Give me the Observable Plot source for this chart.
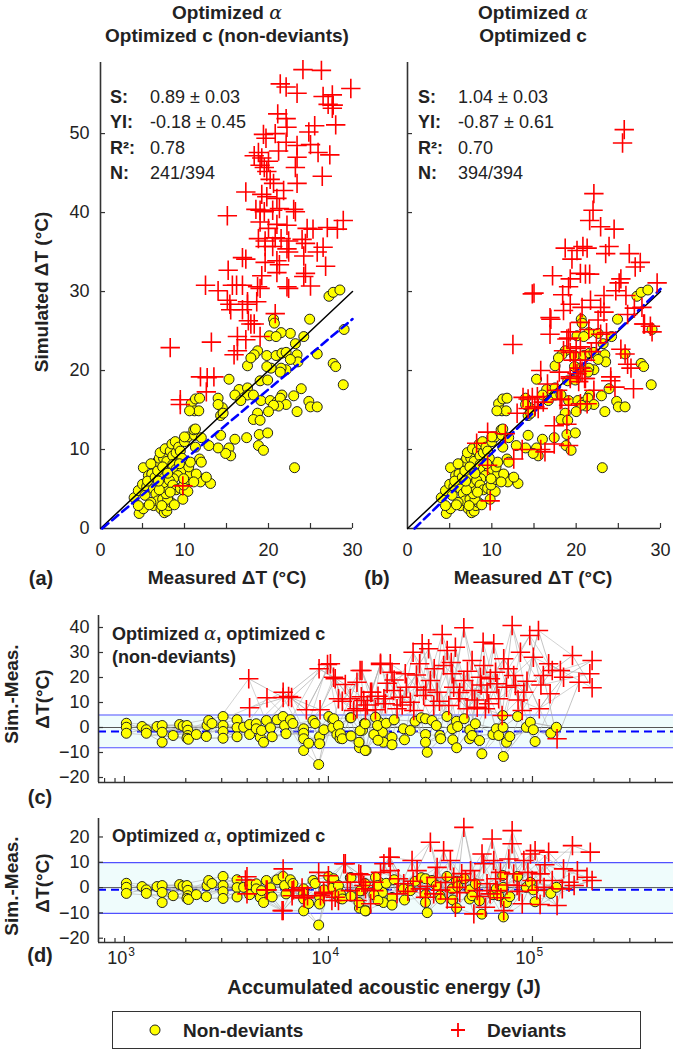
<!DOCTYPE html>
<html><head><meta charset="utf-8">
<script src="https://cdn.jsdelivr.net/npm/d3@7"></script>
<script src="https://cdn.jsdelivr.net/npm/@observablehq/plot@0.6"></script>
<style>
body{margin:0;background:#fff;}
#wrap{position:relative;width:675px;height:1050px;overflow:hidden;font-family:"Liberation Sans",Arial,sans-serif;color:#222;}
.t{position:absolute;white-space:nowrap;line-height:1;}
.al{font-family:"DejaVu Serif",serif;font-style:italic;font-weight:normal;}
</style></head><body><div id="wrap"></div>
<script>
// ---------------- DATA ----------------
// Non-deviant samples: [measured ΔT, simulated ΔT] (same in panels a and b)
const ndPairs = [
[27.2,29.4],[27.7,29.9],[28.5,30.2],[20.6,26.5],[20.7,26.0],[24.9,26.5],[22.6,24.7],[21.5,24.8],[20.1,24.4],[20.9,24.3],[24.2,24.3],[23.2,23.4],[18.7,22.5],[18.3,22.0],[19.8,21.9],[20.9,21.9],[21.6,22.2],[22.1,22.3],[23.4,22.0],[23.5,21.1],[22.6,21.4],[22.1,20.1],[21.5,20.3],[21.4,19.8],[20.3,20.3],[19.8,20.5],[17.5,20.6],[17.9,21.6],[25.8,22.1],[27.7,20.9],[28.0,20.5],[15.3,18.9],[19.0,18.7],[19.9,18.8],[16.5,17.6],[17.5,17.8],[17.5,16.9],[18.2,16.9],[21.6,16.9],[23.0,16.8],[23.9,17.7],[16.0,16.9],[16.7,16.2],[19.1,16.2],[20.2,16.2],[21.0,16.0],[21.4,16.5],[22.1,15.7],[21.2,15.5],[20.6,15.6],[24.8,16.1],[25.0,15.4],[25.8,15.4],[23.4,14.8],[20.0,14.8],[18.7,14.6],[18.2,13.8],[19.0,13.7],[14.5,15.3],[14.0,16.5],[14.0,15.7],[14.3,14.3],[14.6,14.6],[17.4,11.5],[16.0,11.3],[14.3,11.8],[15.3,10.2],[15.5,9.2],[14.9,9.5],[14.0,10.2],[12.9,10.5],[18.9,11.9],[19.9,12.1],[18.8,10.5],[19.4,9.9],[23.1,7.7],[10.8,15.8],[11.2,14.9],[11.7,14.9],[11.3,16.4],[11.8,16.5],[10.6,14.9],[29.0,25.2],[28.9,18.2],
[4.0,3.9],[4.5,4.8],[4.6,1.9],[5.1,2.5],[4.5,2.9],[5.0,5.6],[5.5,5.3],[5.1,7.7],[5.7,6.7],[6.1,6.9],[5.6,6.0],[6.5,6.5],[6.3,5.0],[6.6,4.4],[6.3,2.9],[7.2,2.5],[6.8,3.5],[7.4,3.7],[7.6,2.0],[7.9,2.2],[8.1,2.9],[8.4,3.3],[8.0,3.7],[7.8,4.4],[7.8,5.2],[7.5,5.8],[7.1,6.5],[6.8,7.3],[6.8,8.5],[7.0,8.9],[7.5,8.9],[7.9,8.5],[7.1,9.6],[7.7,10.1],[8.3,9.8],[8.5,10.7],[8.9,11.0],[8.6,9.2],[9.0,9.6],[9.3,10.3],[9.5,9.8],[8.6,8.1],[9.0,7.5],[9.7,7.3],[9.2,6.7],[8.7,6.3],[8.2,6.1],[8.6,5.5],[9.0,4.9],[9.5,5.1],[10.0,4.7],[10.4,4.7],[9.9,5.5],[10.5,6.2],[10.7,7.0],[10.5,7.8],[10.7,8.4],[9.9,6.3],[9.8,3.7],[10.0,11.0],[10.4,11.6],[11.2,11.8],[12.0,11.5],[11.3,10.3],[11.8,8.8],[12.0,8.4],[12.3,6.3],[11.9,5.9],[13.1,5.7],[12.6,6.5],[11.4,6.9],[11.1,5.9],[9.7,8.9],[11.1,12.5],[11.3,12.6],[10.0,11.6],
[5.3,4.2],[6.0,3.3],[7.0,4.9],[8.3,4.6],[6.9,6.0],[7.4,7.8],[8.0,7.0],[9.4,8.2],[6.0,8.2],[5.8,3.0],[7.3,2.9],[8.8,3.0]
];
// Deviants, panel a: [measured ΔT, simulated ΔT]
const devPairsA = [
[24.1,58.1],[26.3,58.0],[21.4,56.3],[22.1,55.9],[23.4,55.1],[26.5,54.7],[27.6,54.9],[29.8,55.7],[27.1,53.7],[27.7,53.6],[27.6,53.2],[21.1,52.5],[22.1,51.9],[22.2,50.8],[24.8,50.2],[25.5,51.0],[28.0,51.1],[19.4,49.9],[20.8,50.0],[19.7,49.4],[22.1,48.9],[23.4,48.5],[25.0,48.6],[25.9,47.6],[27.3,47.3],[18.8,47.6],[21.2,47.8],[18.3,47.2],[19.2,46.9],[20.0,46.5],[23.4,47.0],[19.0,46.0],[19.5,45.7],[19.8,45.2],[23.2,45.7],[26.4,44.6],[20.2,44.2],[20.6,43.7],[23.4,43.7],[17.3,42.6],[19.2,42.3],[19.8,42.0],[21.0,41.8],[21.8,42.8],[15.1,39.6],[18.5,40.4],[19.0,40.3],[19.5,40.1],[20.5,40.3],[21.3,40.5],[23.0,40.4],[23.2,40.1],[19.0,38.8],[20.0,38.0],[21.0,38.5],[22.2,38.4],[24.6,38.0],[25.3,37.9],[27.0,38.1],[28.2,37.9],[28.9,39.0],[18.8,36.7],[19.6,36.4],[20.8,36.8],[21.5,36.7],[22.4,36.4],[24.0,36.6],[24.4,36.1],[19.6,35.7],[20.5,35.7],[22.2,35.4],[22.4,35.0],[26.5,35.6],[25.8,35.0],[24.2,34.5],[16.9,34.3],[17.3,34.1],[19.6,33.7],[21.0,33.9],[21.3,33.4],[26.8,33.2],[15.2,32.7],[19.2,32.0],[21.0,32.4],[24.4,32.3],[24.2,31.9],[25.0,30.7],[12.5,30.8],[14.0,30.1],[15.7,30.8],[16.2,30.8],[16.9,30.8],[18.7,30.6],[19.0,30.4],[22.2,30.6],[22.4,30.4],[15.1,28.9],[17.5,28.7],[18.6,28.7],[15.4,28.4],[15.5,27.7],[16.9,27.7],[17.5,28.4],[17.6,26.3],[17.9,25.9],[18.3,25.9],[16.3,24.3],[17.3,23.9],[19.0,24.3],[15.9,22.0],[16.3,22.5],[8.3,22.9],[13.2,23.6],[11.9,19.2],[12.7,19.1],[13.5,19.2],[12.6,17.3],[9.5,16.3],[9.5,15.7],[20.8,27.2],[9.8,5.4]
];
// Deviants, panel b: [measured ΔT, simulated ΔT]
const devPairsB = [
[25.7,50.5],[25.5,48.8],[22.1,42.4],[22.0,40.3],[21.6,39.0],[22.9,38.2],[24.5,37.9],[18.7,35.5],[20.1,35.2],[20.8,35.7],[21.3,35.5],[23.5,34.8],[23.9,35.7],[26.3,34.8],[27.6,33.7],[27.0,33.1],[19.5,34.1],[17.2,32.0],[20.5,32.3],[21.1,32.2],[21.6,32.2],[19.3,31.6],[19.1,30.6],[15.0,29.8],[18.4,29.6],[21.7,28.9],[23.3,29.5],[25.1,31.1],[25.3,31.6],[25.9,29.5],[24.7,30.1],[29.6,31.1],[19.3,28.4],[20.7,28.0],[22.9,28.0],[23.3,27.4],[18.5,27.6],[17.0,26.5],[20.5,26.1],[26.1,27.1],[26.9,27.9],[28.1,25.9],[29.0,24.9],[21.5,25.2],[22.9,24.6],[23.6,24.8],[16.9,24.6],[19.3,24.9],[19.1,24.1],[18.5,22.5],[19.3,22.3],[20.5,23.0],[19.9,21.3],[21.1,21.3],[25.3,22.7],[26.1,20.8],[24.1,18.7],[24.6,17.9],[15.8,20.0],[26.8,17.7],[12.5,23.3],[20.1,19.6],[20.7,19.9],[19.3,19.0],[21.0,19.0],
[14.8,29.7],[16.9,26.7],[13.7,16.6],[14.3,16.4],[14.8,16.6],[15.4,16.7],[13.0,14.6],[14.3,15.2],[15.1,15.4],[15.5,15.2],[17.4,13.0],[18.3,16.4],[18.9,13.2],[19.1,15.6],[9.5,12.2],[11.6,12.0],[8.2,10.8],[13.6,10.0],[12.6,8.8],[15.8,10.0],[16.3,9.7],[17.4,10.7],[19.1,10.5],[9.5,8.0],[9.8,3.5],[24.1,19.2],[22.1,17.5],[20.5,15.8],[21.3,15.8],[27.8,28.0],[28.0,25.9],[28.8,25.6],[25.8,22.1],[26.5,20.3],[18.9,24.0],[19.7,21.3],[20.5,20.3],[19.3,19.2],[20.3,18.6],[21.1,19.0],[17.8,17.5],[18.1,16.3],[16.1,16.0],[22.4,23.5],[21.8,22.4],[20.0,22.8],[22.6,26.4],[18.0,19.8],[16.6,18.3]
];
// Fit statistics
const statLabels = ["S:", "YI:", "R²:", "N:"];
const statsA = ["0.89 ± 0.03", "-0.18 ± 0.45", "0.78", "241/394"];
const statsB = ["1.04 ± 0.03", "-0.87 ± 0.61", "0.70", "394/394"];
const fitA = {slope: 0.89, intercept: -0.18};
const fitB = {slope: 1.04, intercept: -0.87};

// Non-deviants: [accumulated acoustic energy (J), sim - meas ΔT] (panels c and d)
const ndResid = [
[1023,1.7],[1023,0.1],[1023,-2.3],[1221,0.4],[1282,-0.9],[1282,-2.3],[1446,0.4],[1532,0.8],[1532,-1.9],[1532,-5.9],[1734,-3.2],[1866,1.2],[1940,0.6],[2028,0.8],[2047,-1.1],[2047,-3.2],[2028,-4.3],[2060,-4.7],[2253,-2.8],[2523,-3.6],[2543,0.8],[2590,2.8],[2688,1.6],[3046,4.4],[3046,0.8],[3046,-1.6],[3046,-4.3],[3567,3.1],[3567,0],[3567,-3.7],[3842,0.1],[4110,1.2],[4110,-2.8],[4430,1.5],[4430,-0.5],[4635,-3.9],[4700,-1.2],[4809,-5.9],[4970,2.8],[5200,-0.1],[5300,-3.7],[5605,3.1],[5995,4.4],[6100,0.8],[6200,-2.5],[6510,3.1],[6700,1.6],[7560,-0.5],[7560,-2.3],[7560,-4.5],[7560,-9.2],[8000,-6.3],[8400,2.8],[8600,1.6],[8960,-14.8],[9050,-3.7],[9050,-6.5],[9500,-0.9],[10040,4.4],[10500,3.1],[10500,0],[11000,-2.8],[11400,-4.3],[12800,3.9],[14200,-8.1],[14700,-1.1],[15000,1.6],[15300,-9.2],[17300,-3.6],[17800,2.0],[18400,-1.9],[18600,-5.9],
[10610,3.5],[11200,0.8],[11450,-2.5],[11700,-4.5],[12900,3.9],[12900,-3.4],[14120,-5.9],[14300,-1.3],[15150,1.5],[15150,-9.2],[16700,-2.8],[17000,4.1],[17400,0.8],[17500,-5.1],[19200,1.7],[20500,-3.9],[20500,-6.9],[21000,3.1],[23300,-0.5],[23600,-4.9],[25200,-1.2],[26600,2.5],[28500,3.9],[29900,3.5],[29900,-2.8],[29900,-5.9],[30500,-9.9],[32200,2.8],[33800,0.8],[35200,-3.2],[35500,-4.5],[38100,4.4],[40400,-0.5],[40700,-4.9],[42400,2.5],[42500,-8.1],[43000,0.4],[46300,3.5],[49300,-0.9],[49200,-4.5],[50600,-3.2],[52500,1.5],[55000,-5.2],[56500,-10.5],[64000,-2.8],[66500,-0.5],[68300,-3.2],[71500,4.8],[71800,0.1],[72000,-11.6],[74600,-5.9],[77400,-3.6],[84500,4.4],[93300,0.1],[97600,2.1],[101000,-0.9],[103000,-5.6],[123000,-2.3],[131000,0.1]
];
// Deviants, panel c: [energy (J), sim - meas ΔT]
const devResidC = [
[10230,25.5],[10600,20.1],[11700,10.5],[12100,17.2],[12800,11.5],[13300,6.8],[13800,18.1],[14600,22.8],[14900,10.8],[15200,6.8],[16100,14.1],[17000,7.1],[18000,25.2],[18700,11.5],[19400,17.7],[20100,25.5],[20500,22.1],[20900,14.8],[21700,7.5],[22500,12.1],[23800,21.5],[24100,16.1],[25200,10.1],[26000,30.1],[26200,6.8],[27200,16.1],[28000,25.5],[28800,33.5],[29300,12.8],[31000,31.5],[31600,18.8],[32800,8.8],[34100,14.1],[36100,37.2],[36700,24.8],[38200,30.8],[38900,8.8],[40400,21.5],[41100,16.1],[41900,32.1],[43500,11.5],[46100,39.9],[46100,18.8],[47800,7.5],[50600,26.8],[50600,14.8],[53600,8.1],[55600,20.1],[57300,34.1],[57700,24.8],[58800,7.5],[59900,14.1],[62200,19.5],[64600,33.5],[65900,22.1],[68300,11.5],[72300,27.5],[74600,16.1],[79500,40.8],[80900,20.8],[82500,16.8],[87300,30.1],[89100,6.8],[90700,14.1],[97000,36.8],[101000,28.1],[107000,38.8],[108000,7.5],[113000,20.8],[120000,25.5],[125000,22.8],[137000,22.8],[142000,20.1],[157000,28.8],[169000,18.1],[191000,21.5],[196000,26.8],[196000,15.9],[122000,13.5],[132000,-4.5],[71000,4.8],[4070,19.5],[4110,7.9],[5000,11.9],[6000,14.1],[6000,12.0],[6380,12.4],[6600,12.0],[7800,7.1],[9100,7.1],[9000,23.5],[9900,25.2],[10800,19.5],[11200,11.5],[13800,7.5],[14300,22.8],[14500,12.3],[16300,14.1],[18000,25.7],
[15500,9.0],[17500,12.5],[19000,9.5],[21000,19.0],[23000,9.0],[27000,21.0],[30000,15.0],[33000,23.5],[35000,10.5],[40000,26.0],[44000,14.0],[48000,22.5],[52000,11.0],[56000,17.0],[61000,9.5],[67000,17.5],[76000,23.5],[85000,11.0],[94000,18.5],[110000,17.0]
];
// Deviants, panel d: [energy (J), sim - meas ΔT]
const devResidD = [
[3990,4.3],[3990,-2.5],[5010,-0.9],[6000,7.4],[6000,-9.1],[6640,-3.2],[6760,-0.9],[7430,-0.1],[7620,-4.1],[8960,6.0],[10000,4.7],[9140,-3.2],[9480,-1.9],[10400,-5.1],[3920,3.0],[4960,-0.9],[6640,-1.2],[7570,-3.8],[7900,-3.2],[9480,-2.5],[10000,2.1],[10800,-3.8],[11200,-5.1],[11900,9.4],[12400,2.1],[12800,-1.2],[13800,-5.1],[14400,5.1],[14600,2.1],[15200,-0.5],[16100,-6.4],[16700,-1.2],[18000,6.0],[18700,9.4],[19800,12.0],[12100,9.4],[14100,5.4],[14900,0.8],[16700,2.1],[20100,12.0],[20100,6.7],[21700,-2.5],[23400,1.5],[25700,10.7],[27200,6.7],[28200,-0.5],[29900,-3.8],[31600,17.9],[32800,-2.5],[34100,8.0],[36700,14.6],[38200,-4.5],[39600,10.7],[41100,4.1],[41900,-7.8],[42700,0.1],[46100,23.8],[47000,2.8],[49700,6.7],[51600,-10.4],[53600,-1.2],[56600,13.3],[57700,9.4],[58800,-7.8],[59900,1.5],[63400,19.2],[64600,10.7],[67100,-1.2],[69700,6.0],[72300,-9.1],[76600,11.3],[79500,22.5],[79500,17.3],[80900,5.4],[84100,0.8],[89100,-6.4],[90700,10.7],[97800,13.3],[99600,2.8],[103000,14.6],[109000,5.4],[109000,-6.7],[114000,0.1],[120000,14.0],[125000,2.8],[132000,-7.1],[142000,7.4],[151000,2.1],[157000,16.6],[160000,0.8],[166000,6.7],[185000,4.1],[192000,14.0],[196000,2.8],[5930,-9.1],
[22000,3.5],[24500,-1.5],[26000,2.5],[30500,0.5],[33500,4.0],[35500,-1.0],[37500,2.0],[44000,-2.0],[45000,5.5],[52000,3.0],[55000,-3.5],[62000,-2.5],[66000,3.5],[70000,-4.0],[75000,1.0],[86000,-1.5],[95000,6.0],[105000,-1.0],[115000,9.0],[140000,-0.5]
];
// Limits of agreement (mean and ±band) for c and d
const bandC = {low: -8.1, mean: -1.6, high: 5.0};
const bandD = {low: -10.2, mean: -0.9, high: 9.9};
// Axis ticks
const scatterYTicks = [0, 10, 20, 30, 40, 50];
const scatterXLabels = [0, 10, 20, 30];
const scatterXTicks = [5, 10, 15, 20, 25, 30];
const residYTicksC = [-20, -10, 0, 10, 20, 30, 40];
const residYTicksD = [-20, -10, 0, 10, 20];
const energyMajor = [1e3, 1e4, 1e5];
const energyMinor = [800, 900, 2e3, 3e3, 4e3, 5e3, 6e3, 7e3, 8e3, 9e3, 2e4, 3e4, 4e4, 5e4, 6e4, 7e4, 8e4, 9e4, 2e5, 3e5, 4e5];
const energyExp = ["3", "4", "5"];
const energyDomain = [747, 491000];

// ---------------- DRAW ----------------
const wrap = document.getElementById("wrap");
const FONT = "'Liberation Sans', Arial, sans-serif";
const baseStyle = {fontFamily: FONT, fontSize: "18px", color: "#222", background: "transparent", overflow: "visible"};
function put(svg, left, top) {
  svg.style.position = "absolute"; svg.style.left = left + "px"; svg.style.top = top + "px";
  wrap.appendChild(svg);
}
function txt(html, x, y, {size = 19, bold = true, anchor = "middle", rotate = 0, color = "#222"} = {}) {
  const d = document.createElement("div");
  d.className = "t";
  d.innerHTML = html;
  d.style.left = x + "px"; d.style.top = y + "px";
  d.style.fontSize = size + "px"; d.style.fontWeight = bold ? "bold" : "normal"; d.style.color = color;
  const tx = anchor === "middle" ? "-50%" : anchor === "end" ? "-100%" : "0";
  d.style.transform = rotate ? `translate(-50%,-50%) rotate(${rotate}deg)` : `translate(${tx},-50%)`;
  wrap.appendChild(d);
}

function scatter({devPairs, fit, width, marginLeft, showY}) {
  const mR = 8, innerW = width - marginLeft - mR, innerH = 600 - 62 - 72;
  const [x0, x1] = [scatterXLabels[0], scatterXLabels[scatterXLabels.length - 1]];
  const oneToOne = [{x: x0, y: x0}, {x: x1, y: x1}];
  const xs = Math.max(x0, -fit.intercept / fit.slope);
  const fitLine = [{x: xs, y: fit.slope * xs + fit.intercept}, {x: x1, y: fit.slope * x1 + fit.intercept}];
  return Plot.plot({
    width, height: 600, marginLeft, marginRight: mR, marginTop: 62, marginBottom: 72,
    x: {domain: [0, 30]}, y: {domain: [0, 59]},
    style: baseStyle,
    marks: [
      Plot.axisY(scatterYTicks, {tickSize: 0, tickPadding: 11, fontSize: 18, label: null, tickFormat: showY ? (d => String(d)) : (() => "")}),
      Plot.axisX(scatterXLabels, {tickSize: 0, tickPadding: 15, fontSize: 18, label: null}),
      Plot.tickY(scatterYTicks.slice(1), {y: d => d, stroke: "#333", strokeWidth: 1.2, insetRight: innerW - 5}),
      Plot.tickX(scatterXTicks, {x: d => d, stroke: "#333", strokeWidth: 1.2, insetTop: innerH - 5}),
      Plot.ruleX([0], {stroke: "#333", strokeWidth: 1.6}),
      Plot.ruleY([0], {stroke: "#333", strokeWidth: 1.6}),
      Plot.dot(ndPairs, {x: d => d[0], y: d => d[1], r: 5, fill: "#ffff00", stroke: "#222", strokeWidth: 1}),
      Plot.line(oneToOne, {x: "x", y: "y", stroke: "#000", strokeWidth: 1.5}),
      Plot.line(fitLine, {x: "x", y: "y", stroke: "#0000ff", strokeWidth: 2.6, strokeDasharray: "8,5"}),
      Plot.dot(devPairs, {x: d => d[0], y: d => d[1], symbol: "plus", r: 6.3, fill: "none", stroke: "#ff0000", strokeWidth: 1.6})
    ]
  });
}
put(scatter({devPairs: devPairsA, fit: fitA, width: 360, marginLeft: 100, showY: true}), 0, 0);
put(scatter({devPairs: devPairsB, fit: fitB, width: 328, marginLeft: 67, showY: false}), 340, 0);

// grey connecting lines: points chained in order of energy (interleaved)
function chains(points, k) {
  const s = d3.sort(points, d => d[0]);
  return s.map((d, i) => ({x: d[0], y: d[1], z: i % k}));
}

function resid({devPts, band, yDomain, yTicks, marginTop, marginBottom, showX}) {
  const W = 675, mL = 98, mR = 2, H = 200;
  const innerW = W - mL - mR, innerH = H - marginTop - marginBottom;
  const marks = [
    Plot.rect([band], {y1: "low", y2: "high", fill: "#effcfc"}),
    Plot.ruleY([band.low, band.high], {stroke: "#5050ff", strokeWidth: 1.2}),
    Plot.ruleY([0], {stroke: "#555", strokeWidth: 1}),
    Plot.ruleY([band.mean], {stroke: "#0000ff", strokeWidth: 2, strokeDasharray: "8,5"}),
    Plot.line(chains(ndResid, 4), {x: "x", y: "y", z: "z", stroke: "#aaa", strokeWidth: 0.7}),
    Plot.line(chains(devPts, 4), {x: "x", y: "y", z: "z", stroke: "#aaa", strokeWidth: 0.7}),
    Plot.line(chains(ndResid.concat(devPts), 12), {x: "x", y: "y", z: "z", stroke: "#b4b4b4", strokeWidth: 0.6}),
    Plot.axisY(yTicks, {tickSize: 0, tickPadding: 9, fontSize: 18, label: null}),
    Plot.tickY(yTicks, {y: d => d, stroke: "#333", strokeWidth: 1.2, insetRight: innerW - 5}),
    Plot.tickX(energyMajor, {x: d => d, stroke: "#333", strokeWidth: 1.2, insetTop: innerH - 6}),
    Plot.tickX(energyMinor, {x: d => d, stroke: "#333", strokeWidth: 1.2, insetTop: innerH - 4}),
    Plot.ruleX([energyDomain[0]], {stroke: "#333", strokeWidth: 1.6}),
    Plot.ruleY([yDomain[0]], {stroke: "#333", strokeWidth: 1.6}),
    Plot.dot(ndResid, {x: d => d[0], y: d => d[1], r: 5, fill: "#ffff00", stroke: "#222", strokeWidth: 1}),
    Plot.dot(devPts, {x: d => d[0], y: d => d[1], symbol: "plus", r: 6.3, fill: "none", stroke: "#ff0000", strokeWidth: 1.6})
  ];
  if (showX) {
    marks.push(
      Plot.text(energyMajor, {x: d => d, frameAnchor: "bottom", dy: 21, dx: 3, text: () => "10", textAnchor: "end", fontSize: 18, fill: "#222"}),
      Plot.text(energyMajor, {x: d => d, frameAnchor: "bottom", dy: 13, dx: 4, text: (d, i) => energyExp[i], textAnchor: "start", fontSize: 12, fill: "#222"})
    );
  }
  return Plot.plot({
    width: W, height: H, marginLeft: mL, marginRight: mR, marginTop, marginBottom,
    x: {type: "log", domain: energyDomain, axis: null}, y: {domain: yDomain, axis: null},
    style: baseStyle,
    marks
  });
}
put(resid({devPts: devResidC, band: bandC, yDomain: [-22, 44.8], yTicks: residYTicksC, marginTop: 15, marginBottom: 18, showX: false}), 0, 600);
put(resid({devPts: devResidD, band: bandD, yDomain: [-21.7, 27.3], yTicks: residYTicksD, marginTop: 18, marginBottom: 58, showX: true}), 0, 800);

// ---------------- TEXT ----------------
const A = '<span class="al">α</span>';
txt("Optimized " + A, 227, 12);
txt("Optimized c (non-deviants)", 227, 35);
txt("Optimized " + A, 533, 12);
txt("Optimized c", 533, 35);
txt("Simulated ΔT (°C)", 41, 292, {rotate: -90});
txt("Measured ΔT (°C)", 227, 577);
txt("Measured ΔT (°C)", 533, 577);
txt("(a)", 41, 578, {size: 20});
txt("(b)", 377, 578, {size: 20});
statLabels.forEach((l, i) => {
  txt(l, 110, 97 + i * 25.3, {size: 18, anchor: "start"});
  txt(statsA[i], 150, 97 + i * 25.3, {size: 18, bold: false, anchor: "start"});
  txt(l, 418, 97 + i * 25.3, {size: 18, anchor: "start"});
  txt(statsB[i], 458, 97 + i * 25.3, {size: 18, bold: false, anchor: "start"});
});
txt("Optimized " + A + ", optimized c", 112, 634, {size: 18, anchor: "start"});
txt("(non-deviants)", 112, 657, {size: 18, anchor: "start"});
txt("Sim.-Meas.", 11, 694, {rotate: -90});
txt("ΔT(°C)", 42, 699, {rotate: -90});
txt("(c)", 40, 797, {size: 20});
txt("Optimized " + A + ", optimized c", 112, 836, {size: 18, anchor: "start"});
txt("Sim.-Meas.", 11, 886, {rotate: -90});
txt("ΔT(°C)", 42, 883, {rotate: -90});
txt("(d)", 40, 955, {size: 20});
txt("Accumulated acoustic energy (J)", 384, 987, {size: 20});

// legend
const box = document.createElement("div");
box.style.cssText = "position:absolute;left:112px;top:1011px;width:527px;height:36px;border:1px solid #333;";
wrap.appendChild(box);
const lg = document.createElementNS("http://www.w3.org/2000/svg", "svg");
lg.setAttribute("width", 675); lg.setAttribute("height", 40);
lg.style.cssText = "position:absolute;left:0;top:1010px;";
lg.innerHTML = '<circle cx="155" cy="20" r="5" fill="#ffff00" stroke="#222" stroke-width="1"/>' +
  '<path d="M451,20H465M458,13V27" stroke="#ff0000" stroke-width="1.8" fill="none"/>';
wrap.appendChild(lg);
txt("Non-deviants", 183, 1030, {size: 19, anchor: "start"});
txt("Deviants", 487, 1030, {size: 19, anchor: "start"});
</script></body></html>
